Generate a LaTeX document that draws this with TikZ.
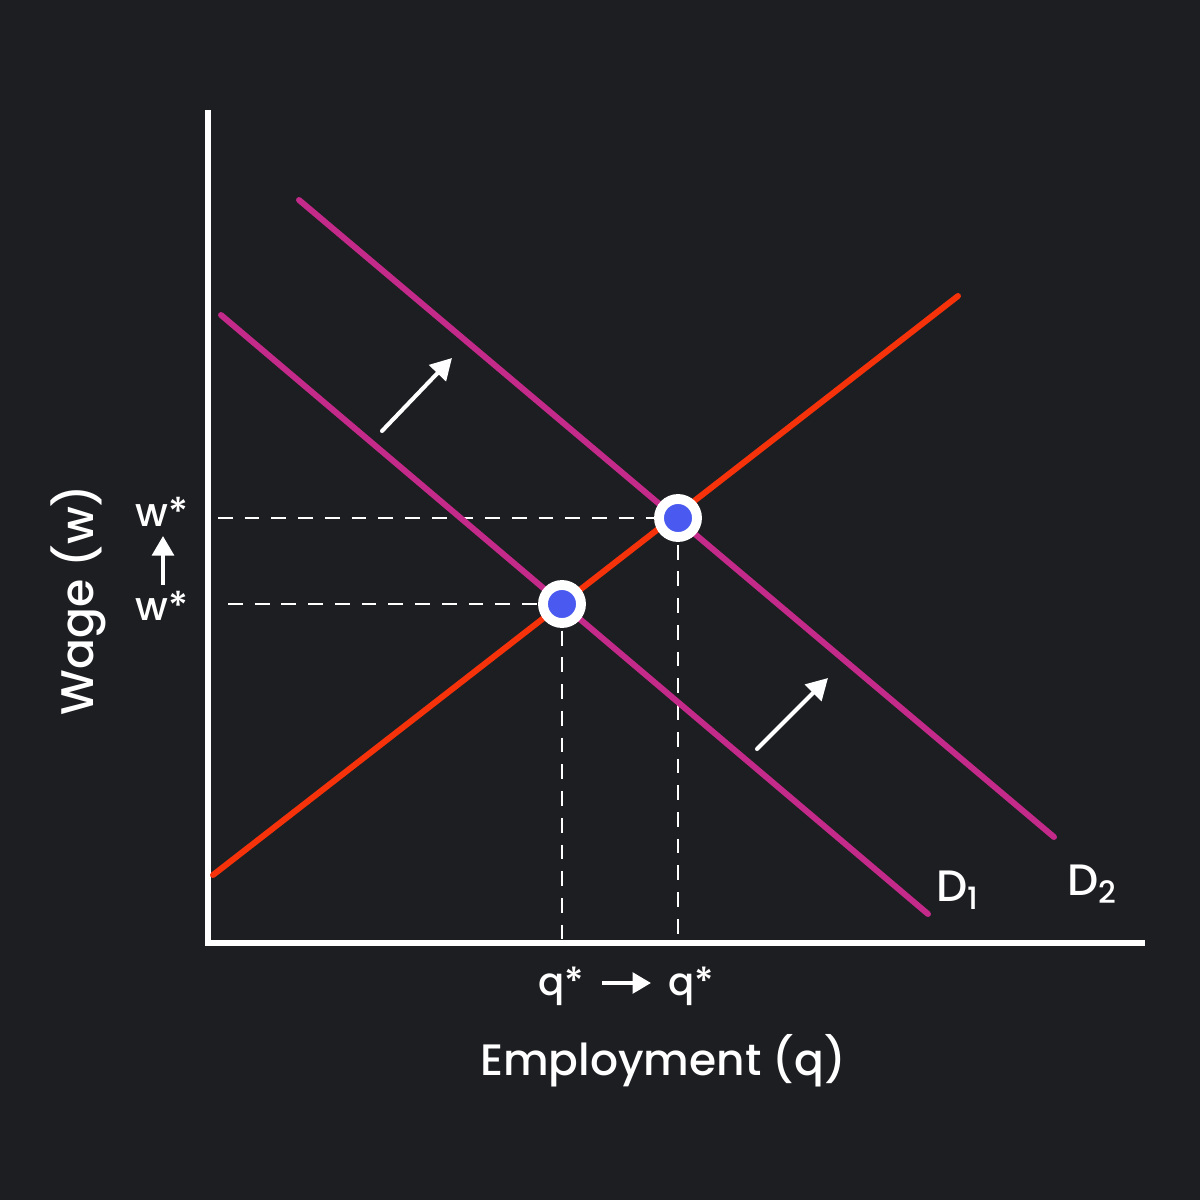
\documentclass[tikz,border=0pt]{standalone}
\usepackage{fontspec}
\setmainfont{Poppins Medium}
\usetikzlibrary{arrows.meta}
\definecolor{bg-dark}{RGB}{29, 30, 34}
\definecolor{supply-red}{RGB}{245, 50, 10}
\definecolor{demand-pink}{RGB}{196, 42, 138}
\definecolor{dot-blue}{RGB}{74, 90, 240}
\tikzset{
  curve/.style={line width=1.7pt, line cap=round},
  guide/.style={white, line width=0.6pt, dash pattern=on 4.2pt off 3.4pt},
  shift arrow/.style={white, line width=1.15pt, line cap=round, -{Triangle[length=6pt, width=6.5pt]}},
  eqdot/.style={circle, fill=dot-blue, draw=white, line width=2.8pt, minimum size=3.8mm, inner sep=0pt},
  lbl/.style={text=white, inner sep=0pt}
}
\begin{document}
\begin{tikzpicture}[x=0.01cm, y=-0.01cm]
                \fill[bg-dark] (0, 0) rectangle (1200, 1200);
                \useasboundingbox (0, 0) rectangle (1200, 1200);
                % axes
                \draw[white, line width=1.5pt] (208, 110) -- (208, 943) -- (1145, 943);
                % guides
                \draw[guide] (218, 518) -- (678, 518);
                \draw[guide] (228, 604) -- (562, 604);
                \draw[guide] (562, 604) -- (562, 943);
                \draw[guide] (678, 518) -- (678, 943);
                % supply and demand
                \draw[curve, supply-red] (213, 875) -- (958, 296);
                \draw[curve, demand-pink] (221, 315) -- (928, 914);
                \draw[curve, demand-pink] (299, 200) -- (1054, 837);
                % shift arrows
                \draw[shift arrow] (382, 431) -- (452, 358);
                \draw[shift arrow] (757, 749) -- (828, 678);
                % equilibria
                \node[eqdot] (e1) at (562, 604) {};
                \node[eqdot] (e2) at (678, 518) {};
                % labels
                \node[lbl, font=\fontsize{12.5}{14}\selectfont] (d1) at (958, 890) {D\textsubscript{1}};
                \node[lbl, font=\fontsize{12.5}{14}\selectfont] (d2) at (1093, 884) {D\textsubscript{2}};
                \node[lbl, font=\fontsize{11}{13}\selectfont] (q1) at (561, 986) {q*};
                \node[lbl, font=\fontsize{11}{13}\selectfont] (q2) at (691, 986) {q*};
                \draw[shift arrow, line cap=butt, -{Triangle[length=5.2pt, width=5.8pt]}] (602, 983) coordinate (qa) -- (651, 983);
                \node[lbl, font=\fontsize{11.3}{13}\selectfont] (w2) at (162, 512) {w*};
                \node[lbl, font=\fontsize{11.3}{13}\selectfont] (w1) at (162, 606) {w*};
                \draw[shift arrow, line cap=butt, -{Triangle[length=5.6pt, width=6.2pt]}] (163, 585) -- (163, 536);
                \node[lbl, font=\fontsize{12.5}{16}\selectfont] (xl) at (663, 1061) {Employment (q)};
                \node[lbl, font=\fontsize{13}{16}\selectfont, rotate=90] (yl) at (78, 600) {Wage (w)};
            \end{tikzpicture}
\end{document}
